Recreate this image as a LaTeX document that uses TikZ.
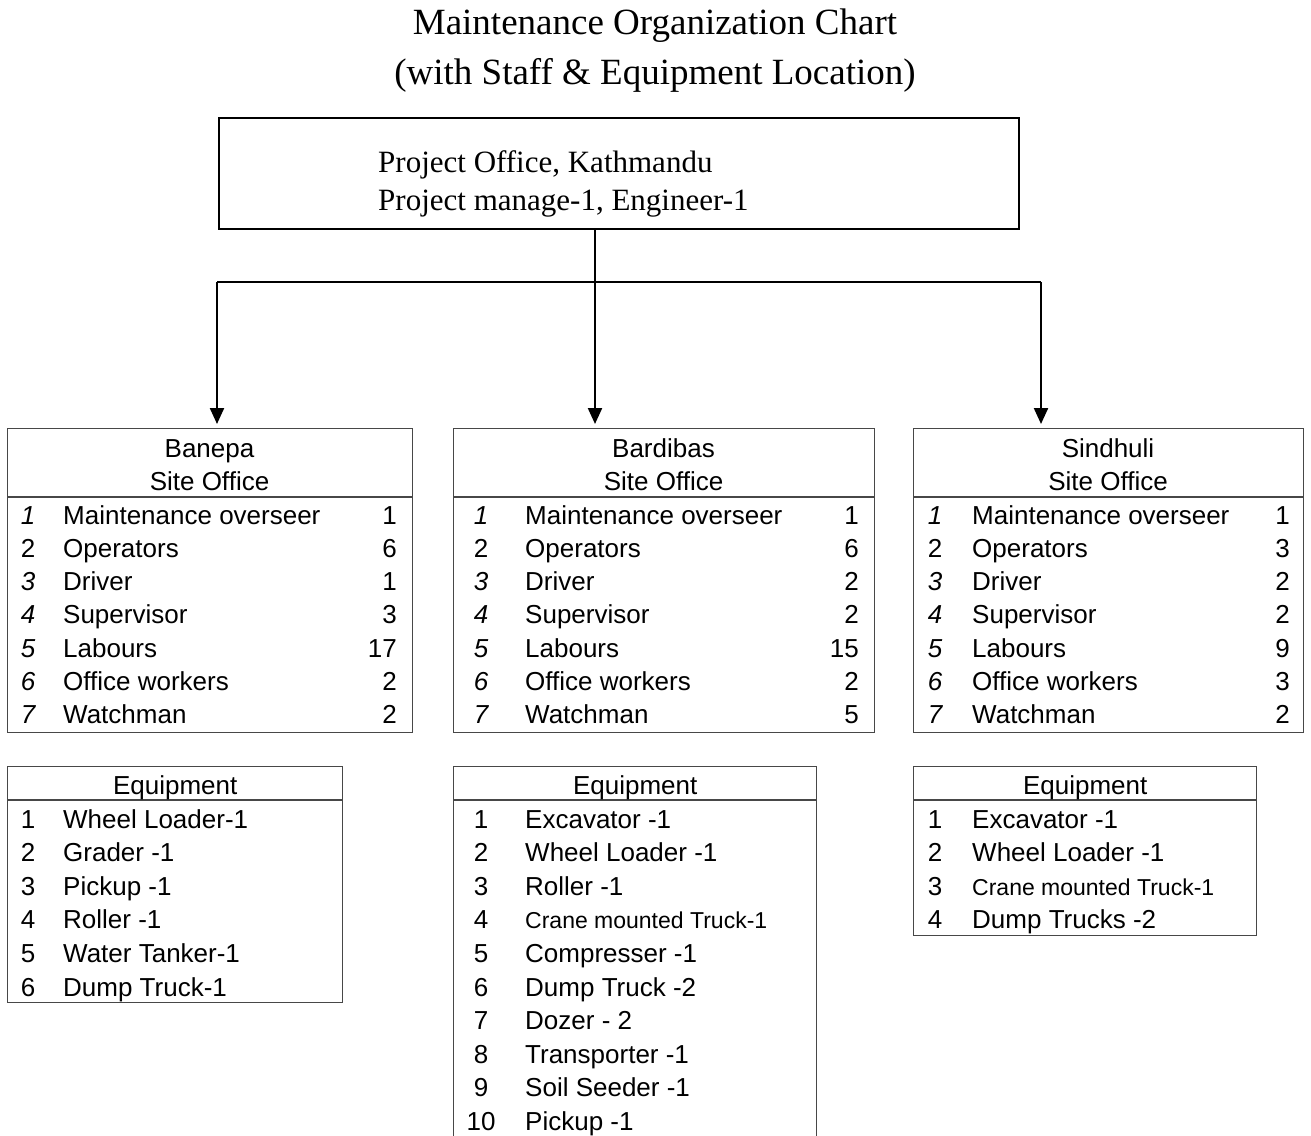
\documentclass[tikz,border=0pt]{standalone}
\usepackage{fontspec}
\setmainfont{Liberation Serif}
\setsansfont{Liberation Sans}
\usetikzlibrary{arrows.meta}

\begin{document}
\begin{tikzpicture}[x=1pt,y=-1pt,
  frame/.style={draw=black!72, line width=1.4pt, inner sep=0pt, anchor=north west},
  topframe/.style={draw=black, line width=2.4pt, inner sep=0pt, anchor=north west},
  rule/.style={draw=black!72, line width=1.4pt},
  trunk/.style={draw=black, line width=2.2pt},
  link/.style={draw=black, line width=2.2pt, shorten >=4pt,
    -{Triangle[length=16pt,width=14pt]}},
  heading/.style={inner sep=0pt, anchor=base, font=\fontsize{37}{43}\selectfont},
  officetxt/.style={inner sep=0pt, anchor=base west, font=\fontsize{31}{36}\selectfont},
  head/.style={inner sep=0pt, anchor=base, font=\sffamily\fontsize{26}{30}\selectfont},
  num/.style={inner sep=0pt, anchor=base, font=\sffamily\fontsize{26}{30}\selectfont},
  item/.style={inner sep=0pt, anchor=base west, font=\sffamily\fontsize{26}{30}\selectfont},
  qty/.style={inner sep=0pt, anchor=base east, font=\sffamily\fontsize{26}{30}\selectfont}
]
\clip (0,0) rectangle (1311,1135);

% title
\node[heading] (t1) at (655,34) {Maintenance Organization Chart};
\node[heading] (t2) at (655,84) {(with Staff \& Equipment Location)};

% head office
\node[topframe, minimum width=800pt, minimum height=111pt] (po) at (218,117) {};
\node[officetxt] (po1) at (378,172) {Project Office, Kathmandu};
\node[officetxt] (po2) at (378,210) {Project manage-1, Engineer-1};

% site offices
\node[frame, minimum width=405pt, minimum height=304pt] (ban) at (7,428) {};
\node[frame, minimum width=421pt, minimum height=304pt] (bar) at (453,428) {};
\node[frame, minimum width=390pt, minimum height=304pt] (sin) at (913,428) {};
\foreach \b in {ban,bar,sin}
  \draw[rule] ([yshift=-69pt]\b.north west) -- ([yshift=-69pt]\b.north east);

\node[head] (ban-h1) at (209.5,457) {Banepa};
\node[head] (ban-h2) at (209.5,490) {Site Office};
\node[head] (bar-h1) at (663.5,457) {Bardibas};
\node[head] (bar-h2) at (663.5,490) {Site Office};
\node[head] (sin-h1) at (1108,457) {Sindhuli};
\node[head] (sin-h2) at (1108,490) {Site Office};

% connectors
\coordinate (hub) at (595,282);
\coordinate (jl) at (217,282);
\coordinate (jr) at (1041,282);
\draw[trunk] (po.south -| hub) -- (hub);
\draw[trunk] (jl) -- (jr);
\draw[link] (jl) -- (ban.north -| jl);
\draw[link] (hub) -- (bar.north -| hub);
\draw[link] (jr) -- (sin.north -| jr);

% staff lists
\foreach \t/\c [count=\i] in {Maintenance overseer/1, Operators/6, Driver/1,
    Supervisor/3, Labours/17, Office workers/2, Watchman/2} {
  \node[num] (ban-n\i) at (28,524+33.33*\i-33.33) {\ifnum\i=2 \i\else\itshape\i\fi};
  \node[item] (ban-t\i) at (63,524+33.33*\i-33.33) {\t};
  \node[qty] (ban-c\i) at (397,524+33.33*\i-33.33) {\c};
}
\foreach \t/\c [count=\i] in {Maintenance overseer/1, Operators/6, Driver/2,
    Supervisor/2, Labours/15, Office workers/2, Watchman/5} {
  \node[num] (bar-n\i) at (481,524+33.33*\i-33.33) {\ifnum\i=2 \i\else\itshape\i\fi};
  \node[item] (bar-t\i) at (525,524+33.33*\i-33.33) {\t};
  \node[qty] (bar-c\i) at (859,524+33.33*\i-33.33) {\c};
}
\foreach \t/\c [count=\i] in {Maintenance overseer/1, Operators/3, Driver/2,
    Supervisor/2, Labours/9, Office workers/3, Watchman/2} {
  \node[num] (sin-n\i) at (935,524+33.33*\i-33.33) {\ifnum\i=2 \i\else\itshape\i\fi};
  \node[item] (sin-t\i) at (972,524+33.33*\i-33.33) {\t};
  \node[qty] (sin-c\i) at (1290,524+33.33*\i-33.33) {\c};
}

% equipment boxes
\node[frame, minimum width=335pt, minimum height=236pt] (ban-eq) at (7,766) {};
\node[frame, minimum width=363pt, minimum height=400pt] (bar-eq) at (453,766) {};
\node[frame, minimum width=343pt, minimum height=169pt] (sin-eq) at (913,766) {};
\foreach \b in {ban-eq,bar-eq,sin-eq}
  \draw[rule] ([yshift=-34pt]\b.north west) -- ([yshift=-34pt]\b.north east);

\node[head] (ban-eqh) at (ban-eq.north |- 0,794) {Equipment};
\node[head] (bar-eqh) at (bar-eq.north |- 0,794) {Equipment};
\node[head] (sin-eqh) at (sin-eq.north |- 0,794) {Equipment};

\foreach \t [count=\i] in {Wheel Loader-1, Grader -1, Pickup -1, Roller -1,
    Water Tanker-1, Dump Truck-1} {
  \node[num] (ban-en\i) at (28,828+33.6*\i-33.6) {\i};
  \node[item] (ban-et\i) at (63,828+33.6*\i-33.6) {\t};
}
\foreach \t [count=\i] in {Excavator -1, Wheel Loader -1, Roller -1,
    {\fontsize{23}{26}\selectfont Crane mounted Truck-1}, Compresser -1,
    Dump Truck -2, Dozer - 2, Transporter -1, Soil Seeder -1, Pickup -1} {
  \node[num] (bar-en\i) at (481,828+33.6*\i-33.6) {\i};
  \node[item] (bar-et\i) at (525,828+33.6*\i-33.6) {\t};
}
\foreach \t [count=\i] in {Excavator -1, Wheel Loader -1,
    {\fontsize{23}{26}\selectfont Crane mounted Truck-1}, Dump Trucks -2} {
  \node[num] (sin-en\i) at (935,828+33.6*\i-33.6) {\i};
  \node[item] (sin-et\i) at (972,828+33.6*\i-33.6) {\t};
}
\end{tikzpicture}
\end{document}
